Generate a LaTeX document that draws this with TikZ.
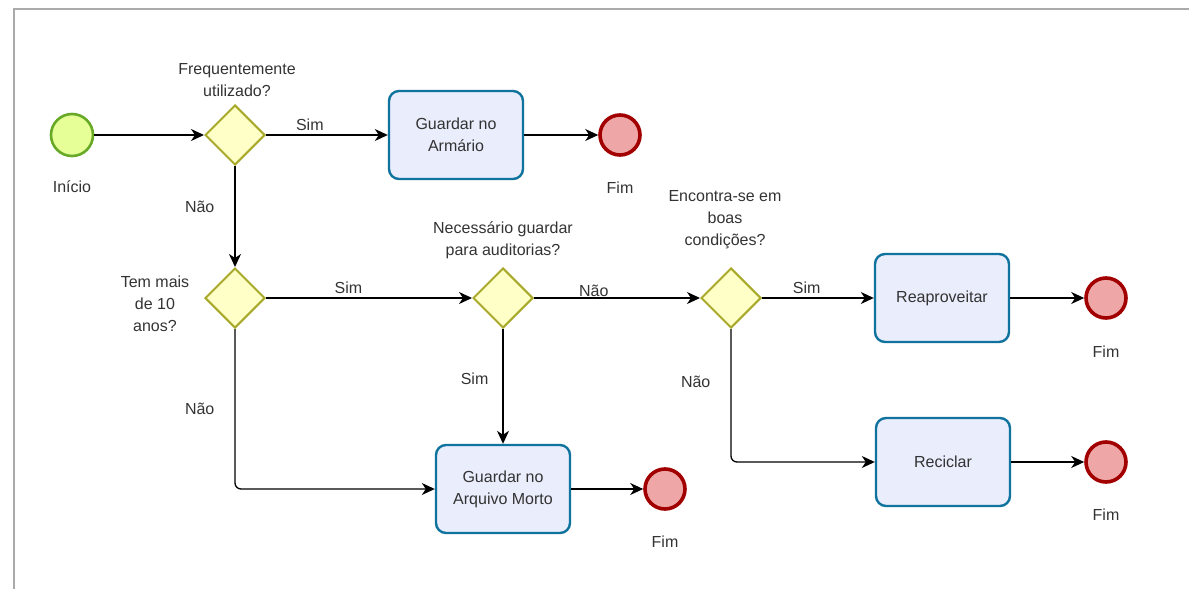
\documentclass[tikz,border=0pt]{standalone}
\usepackage{fontspec}
\setmainfont{Liberation Sans}
\usetikzlibrary{shapes.geometric, arrows.meta}

\definecolor{inifill}{RGB}{230,255,150}
\definecolor{inidraw}{RGB}{104,170,40}
\definecolor{gwfill}{RGB}{255,255,200}
\definecolor{gwdraw}{RGB}{168,168,42}
\definecolor{taskfill}{RGB}{233,237,252}
\definecolor{taskdraw}{RGB}{16,115,158}
\definecolor{fimfill}{RGB}{238,166,166}
\definecolor{fimdraw}{RGB}{162,0,0}
\definecolor{txtgray}{RGB}{51,51,51}
\definecolor{framegray}{RGB}{170,170,170}

\begin{document}
\begin{tikzpicture}[x=0.5pt, y=-0.5pt, >={Stealth[length=6.5pt,width=6pt,inset=2pt]},
  font=\fontsize{8}{11}\selectfont, text=txtgray,
  inicio/.style={circle, draw=inidraw, fill=inifill, line width=1.3pt, minimum size=21pt, inner sep=0pt},
  fim/.style={circle, draw=fimdraw, fill=fimfill, line width=1.8pt, minimum size=20pt, inner sep=0pt},
  gateway/.style={diamond, draw=gwdraw, fill=gwfill, line width=1pt, minimum width=30pt, minimum height=30pt, inner sep=0pt},
  tarefa/.style={rectangle, rounded corners=5pt, draw=taskdraw, fill=taskfill, line width=1.2pt, minimum width=67pt, minimum height=44pt, align=center},
  txt/.style={align=center, inner sep=1pt},
  lbl/.style={inner sep=2pt, text=txtgray},
  flow/.style={->, line width=0.65pt, draw=black, rounded corners=3pt}]
\useasboundingbox (0,0) rectangle (1189,589);
\draw[framegray, line width=1pt] (13.5,589) -- (13.5,8.5) -- (1189,8.5);

% eventos e gateways
\node[inicio] (ini) at (72,135) {};
\node[txt] (iniT) at (72,187) {Início};
\node[gateway] (g1) at (235,135) {};
\node[txt] (g1T) at (237,80) {Frequentemente\\utilizado?};
\node[gateway] (g2) at (235,298) {};
\node[txt] (g2T) at (155,304) {Tem mais\\de 10\\anos?};
\node[gateway] (g3) at (503,298) {};
\node[txt] (g3T) at (503,240) {Necessário guardar\\para auditorias?};
\node[gateway] (g4) at (731,298) {};
\node[txt] (g4T) at (725,220) {Encontra-se em\\boas\\condições?};

% tarefas
\node[tarefa] (t1) at (456,135) {Guardar no\\Armário};
\node[tarefa] (t2) at (942,298) {Reaproveitar};
\node[tarefa] (t3) at (503,489) {Guardar no\\Arquivo Morto};
\node[tarefa] (t4) at (943,462) {Reciclar};

% fins
\node[fim] (f1) at (620,135) {};
\node[txt] (f1T) at (620,188) {Fim};
\node[fim] (f2) at (1106,298) {};
\node[txt] (f2T) at (1106,352) {Fim};
\node[fim] (f3) at (665,489) {};
\node[txt] (f3T) at (665,542) {Fim};
\node[fim] (f4) at (1106,462) {};
\node[txt] (f4T) at (1106,515) {Fim};

% fluxos
\draw[flow] (ini) -- (g1);
\draw[flow] (g1) -- node[lbl, above, pos=0.36] {Sim} (t1);
\draw[flow] (t1) -- (f1);
\draw[flow] (g1) -- node[lbl, left=8pt, pos=0.4] {Não} (g2);
\draw[flow] (g2) -- node[lbl, above, pos=0.4] {Sim} (g3);
\draw[flow] (g2) |- node[lbl, left=8pt, pos=0.25] {Não} (t3);
\draw[flow] (g3) -- node[lbl, left=5pt, pos=0.43] {Sim} (t3);
\draw[flow] (t3) -- (f3);
\draw[flow] (g3) -- node[lbl, above, pos=0.36, inner sep=0.5pt] {Não} (g4);
\draw[flow] (g4) -- node[lbl, above, pos=0.4] {Sim} (t2);
\draw[flow] (g4) |- node[lbl, left=8pt, pos=0.2] {Não} (t4);
\draw[flow] (t2) -- (f2);
\draw[flow] (t4) -- (f4);
\end{tikzpicture}
\end{document}
